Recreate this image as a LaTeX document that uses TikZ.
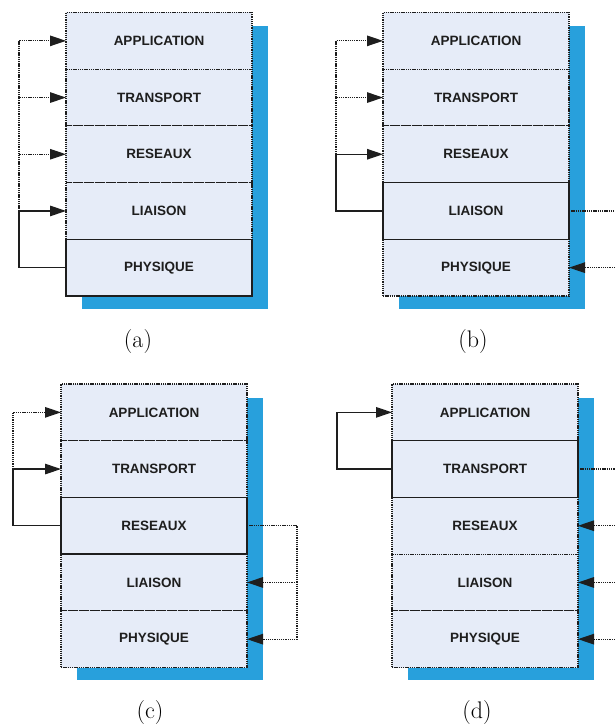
\documentclass[tikz,border=0pt]{standalone}
\usepackage{fontspec}
\newfontfamily\layerfont{Liberation Sans}
\usetikzlibrary{arrows.meta}

\definecolor{layerfill}{RGB}{230,236,248}
\definecolor{shadowblue}{RGB}{40,160,220}
\definecolor{inkgrey}{RGB}{30,30,30}

\tikzset{
  fine dots/.style={dash pattern=on 1.3pt off 0.9pt},
  layer/.style={draw=inkgrey, fine dots, line width=1.1pt, fill=layerfill,
    minimum width=186pt, minimum height=56.7pt, inner sep=0pt, outer sep=0pt,
    font=\layerfont\bfseries\fontsize{13.5}{15}\selectfont, text=inkgrey},
  active/.style={draw=inkgrey, solid, line width=1.3pt},
  shadowbox/.style={fill=shadowblue, draw=none},
  solidlink/.style={draw=inkgrey, solid, line width=1.3pt},
  dotlink/.style={draw=inkgrey, fine dots, line width=1.2pt},
  arrowin/.style={-{Triangle[length=16pt,width=10.5pt]}},
  caption/.style={font=\fontsize{24}{28}\selectfont}
}

% five-layer stack: #1 name prefix, #2 left x, #3 top y
\newcommand\layerstack[3]{%
  \fill[shadowbox] (#2+16,#3+14) rectangle (#2+202,#3+296);
  \node[layer, anchor=north west] (#1app) at (#2,#3) {APPLICATION};
  \node[layer, anchor=north] (#1tra) at (#1app.south) {TRANSPORT};
  \node[layer, anchor=north] (#1res) at (#1tra.south) {RESEAUX};
  \node[layer, anchor=north] (#1lia) at (#1res.south) {LIAISON};
  \node[layer, anchor=north] (#1phy) at (#1lia.south) {PHYSIQUE};
}

\begin{document}
\begin{tikzpicture}[x=1pt,y=-1pt]
  \useasboundingbox (0,0) rectangle (615,725);
  \coordinate (edge) at (615,0);

  % (a) physical layer loops back to the upper layers
  \layerstack{a}{66}{12.5}
  \draw[active] (aphy.north west) rectangle (aphy.south east);
  \draw[solidlink, arrowin] (aphy.west) -- ++(-47,0) |- (alia.west);
  \draw[dotlink, arrowin] (alia.west) ++(-47,0) |- (ares.west);
  \draw[dotlink, arrowin] (ares.west) ++(-47,0) |- (atra.west);
  \draw[dotlink, arrowin] (atra.west) ++(-47,0) |- (aapp.west);
  \node[caption] (capa) at (138,342) {(a)};

  % (b) data link layer
  \layerstack{b}{383}{12.5}
  \draw[active] (blia.north west) rectangle (blia.south east);
  \draw[solidlink, arrowin] (blia.west) -- ++(-47,0) |- (bres.west);
  \draw[dotlink, arrowin] (bres.west) ++(-47,0) |- (btra.west);
  \draw[dotlink, arrowin] (btra.west) ++(-47,0) |- (bapp.west);
  \draw[dotlink] (blia.east) -- (blia.east -| edge);
  \draw[dotlink, arrowin] (bphy.east -| edge) -- (bphy.east);
  \node[caption] (capb) at (473,342) {(b)};

  % (c) network layer
  \layerstack{c}{61}{384}
  \draw[active] (cres.north west) rectangle (cres.south east);
  \draw[solidlink, arrowin] (cres.west) -- ++(-48,0) |- (ctra.west);
  \draw[dotlink, arrowin] (ctra.west) ++(-48,0) |- (capp.west);
  \draw[dotlink, arrowin] (cres.east) -- ++(50,0) |- (cphy.east);
  \draw[dotlink, arrowin] (clia.east) ++(50,0) -- (clia.east);
  \node[caption] (capc) at (150,713) {(c)};

  % (d) transport layer
  \layerstack{d}{392}{384}
  \draw[active] (dtra.north west) rectangle (dtra.south east);
  \draw[solidlink, arrowin] (dtra.west) -- ++(-55,0) |- (dapp.west);
  \draw[dotlink] (dtra.east) -- (dtra.east -| edge);
  \draw[dotlink, arrowin] (dres.east -| edge) -- (dres.east);
  \draw[dotlink, arrowin] (dlia.east -| edge) -- (dlia.east);
  \draw[dotlink, arrowin] (dphy.east -| edge) -- (dphy.east);
  \node[caption] (capd) at (477,713) {(d)};
\end{tikzpicture}
\end{document}
